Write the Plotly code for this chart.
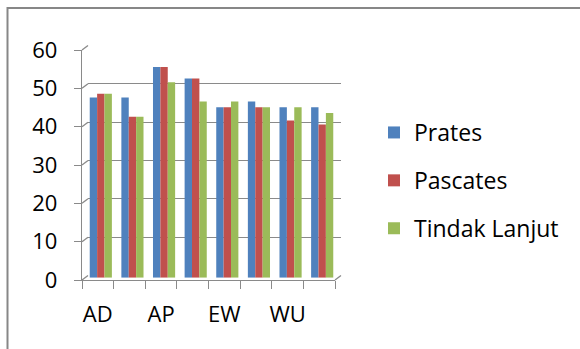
import plotly.graph_objects as go

# Category tick labels (only every other category carries a label)
categories = ["AD", "", "AP", "", "EW", "", "WU", ""]
series_names = ["Prates", "Pascates", "Tindak Lanjut"]
prates = [47, 47, 55, 52, 44.5, 46, 44.5, 44.5]
pascates = [48, 42, 55, 52, 44.5, 44.5, 41, 40]
tindak_lanjut = [48, 42, 51, 46, 46, 44.5, 44.5, 43]
y_ticks = [0, 10, 20, 30, 40, 50, 60]

colors = ["#4F81BD", "#C0504D", "#9BBB59"]
frame_color = "#8A8A8A"

W, H = 580, 349
# Front plane of the pseudo 3-D box, in pixels
FX0, FX1 = 82, 335
FY0, FY1 = 280, 50          # pixel rows for value 0 and value 60
DX, DY = 6, 4.5             # depth offset from front plane to back wall
Y_MAX = 60


def px(x):
    return x / W


def py(y):
    return 1 - y / H


def fy(v):
    # pixel row of value v on the front plane
    return FY0 + (FY1 - FY0) * v / Y_MAX


pos = list(range(len(categories)))

fig = go.Figure()
# empty traces so the back-wall and front-plane subplots get drawn
for xa, ya in (("x", "y"), ("x2", "y2")):
    fig.add_trace(go.Scatter(x=[None], y=[None], xaxis=xa, yaxis=ya,
                             showlegend=False, hoverinfo="skip", mode="markers"))
for name, vals, c in zip(series_names, [prates, pascates, tindak_lanjut], colors):
    fig.add_trace(go.Bar(
        x=pos, y=vals, name=name, marker_color=c,
        marker_line_width=0, xaxis="x3", yaxis="y3",
        legendgroup=name, hoverinfo="skip",
    ))

half = (DX / 2, DY / 2)
fig.update_layout(
    width=W, height=H, autosize=False,
    margin=dict(l=0, r=0, t=0, b=0, autoexpand=False),
    paper_bgcolor="white", plot_bgcolor="rgba(0,0,0,0)",
    font=dict(family="Open Sans", size=22, color="black"),
    barmode="group", bargap=0.3, bargroupgap=0,
    showlegend=True,
    legend=dict(
        x=px(374), y=py(111), xanchor="left", yanchor="top",
        traceorder="grouped", tracegroupgap=15,
        bgcolor="rgba(0,0,0,0)", font=dict(size=23),
    ),
    # back wall: horizontal gridlines only
    xaxis=dict(domain=[px(FX0 + DX), px(FX1 + DX)], range=[-0.5, 7.5],
               anchor="y", visible=False, automargin=False),
    yaxis=dict(domain=[py(FY0 - DY), py(FY1 - DY)], range=[0, Y_MAX],
               anchor="x", tickvals=y_ticks, showticklabels=False, ticks="",
               showgrid=True, gridcolor=frame_color, gridwidth=1.3,
               zeroline=False, showline=False, automargin=False),
    # front plane: axis lines, ticks and labels
    xaxis2=dict(domain=[px(FX0), px(FX1)], range=[-0.5, 7.5], anchor="y2",
                showline=True, linecolor=frame_color, linewidth=1.3,
                tickvals=pos, ticktext=categories, ticks="", showgrid=False,
                zeroline=False, ticklabelstandoff=14, automargin=False,
                minor=dict(tickvals=[i - 0.5 for i in range(len(categories) + 1)],
                           ticks="outside", ticklen=8, tickcolor=frame_color,
                           tickwidth=1.3, showgrid=False)),
    yaxis2=dict(domain=[py(FY0), py(FY1)], range=[0, Y_MAX], anchor="x2",
                showline=True, linecolor=frame_color, linewidth=1.3,
                tickvals=y_ticks, ticks="outside", ticklen=7,
                tickcolor=frame_color, tickwidth=1.3, showgrid=False,
                zeroline=False, ticklabelstandoff=12, automargin=False),
    # bars sit midway between front plane and back wall
    xaxis3=dict(domain=[px(FX0 + half[0]), px(FX1 + half[0])], range=[-0.5, 7.5],
                anchor="y3", visible=False, automargin=False),
    yaxis3=dict(domain=[py(FY0 - half[1]), py(FY1 - half[1])], range=[0, Y_MAX],
                anchor="x3", visible=False, automargin=False),
)

shapes = []
# left wall connectors from each front tick to its back-wall gridline
for v in y_ticks:
    shapes.append(dict(type="line", xref="paper", yref="paper",
                       x0=px(FX0), y0=py(fy(v)), x1=px(FX0 + DX), y1=py(fy(v) - DY),
                       line=dict(color=frame_color, width=1.3)))
# right floor corner
shapes.append(dict(type="line", xref="paper", yref="paper",
                   x0=px(FX1), y0=py(FY0), x1=px(FX1 + DX), y1=py(FY0 - DY),
                   line=dict(color=frame_color, width=1.3)))
# chart area border (left and top edges)
shapes.append(dict(type="path", xref="paper", yref="paper",
                   path=f"M {px(7.5)},{py(H + 2)} L {px(7.5)},{py(8)} L {px(W + 2)},{py(8)}",
                   line=dict(color="#878787", width=2)))
fig.update_layout(shapes=shapes)

fig.write_html("out.html")
